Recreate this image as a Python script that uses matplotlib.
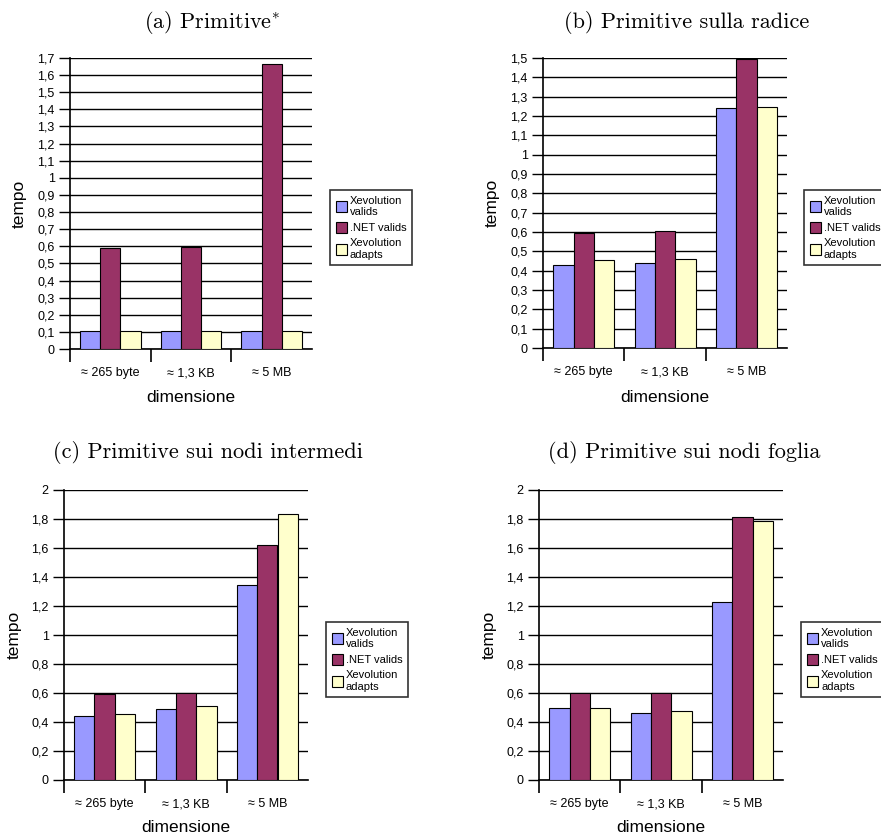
import matplotlib
matplotlib.use("Agg")
import matplotlib.pyplot as plt
import numpy as np
from matplotlib.ticker import FuncFormatter

plt.rcParams["mathtext.fontset"] = "cm"
plt.rcParams["axes.unicode_minus"] = False

categories = ["\u2248 265 byte", "\u2248 1,3 KB", "\u2248 5 MB"]
series_names = ["Xevolution\nvalids", ".NET valids", "Xevolution\nadapts"]
series_colors = ["#9999FF", "#993366", "#FFFFCC"]

titles = [r"(a) Primitive$^{*}$", "(b) Primitive sulla radice",
          "(c) Primitive sui nodi intermedi", "(d) Primitive sui nodi foglia"]

# values per panel: [Xevolution valids, .NET valids, Xevolution adapts]
prim_xev_valids = [0.105, 0.105, 0.105]
prim_net_valids = [0.59, 0.595, 1.665]
prim_xev_adapts = [0.105, 0.105, 0.105]

radice_xev_valids = [0.43, 0.44, 1.24]
radice_net_valids = [0.597, 0.607, 1.497]
radice_xev_adapts = [0.455, 0.462, 1.247]

interm_xev_valids = [0.441, 0.487, 1.345]
interm_net_valids = [0.591, 0.602, 1.621]
interm_xev_adapts = [0.457, 0.508, 1.832]

foglia_xev_valids = [0.494, 0.46, 1.225]
foglia_net_valids = [0.602, 0.602, 1.814]
foglia_xev_adapts = [0.497, 0.478, 1.786]

panel_data = [
    (prim_xev_valids, prim_net_valids, prim_xev_adapts),
    (radice_xev_valids, radice_net_valids, radice_xev_adapts),
    (interm_xev_valids, interm_net_valids, interm_xev_adapts),
    (foglia_xev_valids, foglia_net_valids, foglia_xev_adapts),
]
y_max = [1.7, 1.5, 2.0, 2.0]
y_step = [0.1, 0.1, 0.2, 0.2]

W, H = 881, 840
fig = plt.figure(figsize=(W / 100, H / 100), dpi=100)

# axes boxes in pixels: left, right, top, bottom
boxes = [(70, 312, 58, 349), (543, 787, 58, 348),
         (64, 308, 490, 780), (539, 783, 490, 780)]
title_pos = [(212, 23), (687, 23), (208, 452), (684, 452)]
ylabel_x = [27, 500, 22, 497]
xlabel_y = [397, 397, 828, 828]
legend_pos = [(330, 190), (804, 190), (326, 622), (801, 622)]


def fmt(v, _):
    s = f"{v:.1f}".rstrip("0").rstrip(".")
    return s.replace(".", ",")


sans = ["Liberation Sans", "DejaVu Sans"]

for i, (l, r, t, b) in enumerate(boxes):
    ax = fig.add_axes([l / W, 1 - b / H, (r - l) / W, (b - t) / H])
    x = np.arange(len(categories))
    width = 0.25
    for k, vals in enumerate(panel_data[i]):
        ax.bar(x + (k - 1) * width, vals, width, color=series_colors[k],
               edgecolor="black", linewidth=0.8, label=series_names[k], zorder=3)
    ax.set_xlim(-0.5, 2.5)
    ax.set_ylim(0, y_max[i])
    ax.set_yticks(np.arange(0, y_max[i] + 1e-9, y_step[i]))
    ax.yaxis.set_major_formatter(FuncFormatter(fmt))
    ax.grid(axis="y", color="black", linewidth=1.0, zorder=0)
    ax.set_axisbelow(True)
    ax.set_xticks(x)
    ax.set_xticklabels(categories, family=sans, fontsize=9)
    ax.set_xticks([-0.5, 0.5, 1.5], minor=True)
    ax.tick_params(axis="x", which="major", length=0, pad=13)
    ax.tick_params(axis="x", which="minor", length=9, width=1.2, direction="out")
    ax.tick_params(axis="y", length=8, width=1.0, direction="out", pad=3)
    for lab in ax.get_yticklabels():
        lab.set_family(sans)
        lab.set_fontsize(9)
    for side in ("top", "right"):
        ax.spines[side].set_visible(False)
    ax.spines["left"].set_linewidth(1.2)
    ax.spines["bottom"].set_linewidth(1.2)

    ax.set_ylabel("tempo", family=sans, fontsize=12.5)
    ax.yaxis.set_label_coords((ylabel_x[i] - l) / (r - l), 0.5)
    ax.set_xlabel("dimensione", family=sans, fontsize=12.5, va="center")
    ax.xaxis.set_label_coords(0.5, 1 - (xlabel_y[i] - t) / (b - t))

    tx, ty = title_pos[i]
    fig.text(tx / W, 1 - ty / H, titles[i], ha="center", va="center",
             family="cmr10", fontsize=16, math_fontfamily="cm")

    lx, ly = legend_pos[i]
    leg = ax.legend(loc="upper left", bbox_to_anchor=(lx / W, 1 - ly / H),
                    bbox_transform=fig.transFigure, frameon=True, fancybox=False,
                    prop={"family": sans, "size": 8}, handlelength=1.0,
                    handleheight=1.1, handletextpad=0.3, borderpad=0.5,
                    labelspacing=0.45, borderaxespad=0)
    leg.get_frame().set_edgecolor("black")
    leg.get_frame().set_linewidth(1.2)

fig.savefig("out.png", dpi=100)
